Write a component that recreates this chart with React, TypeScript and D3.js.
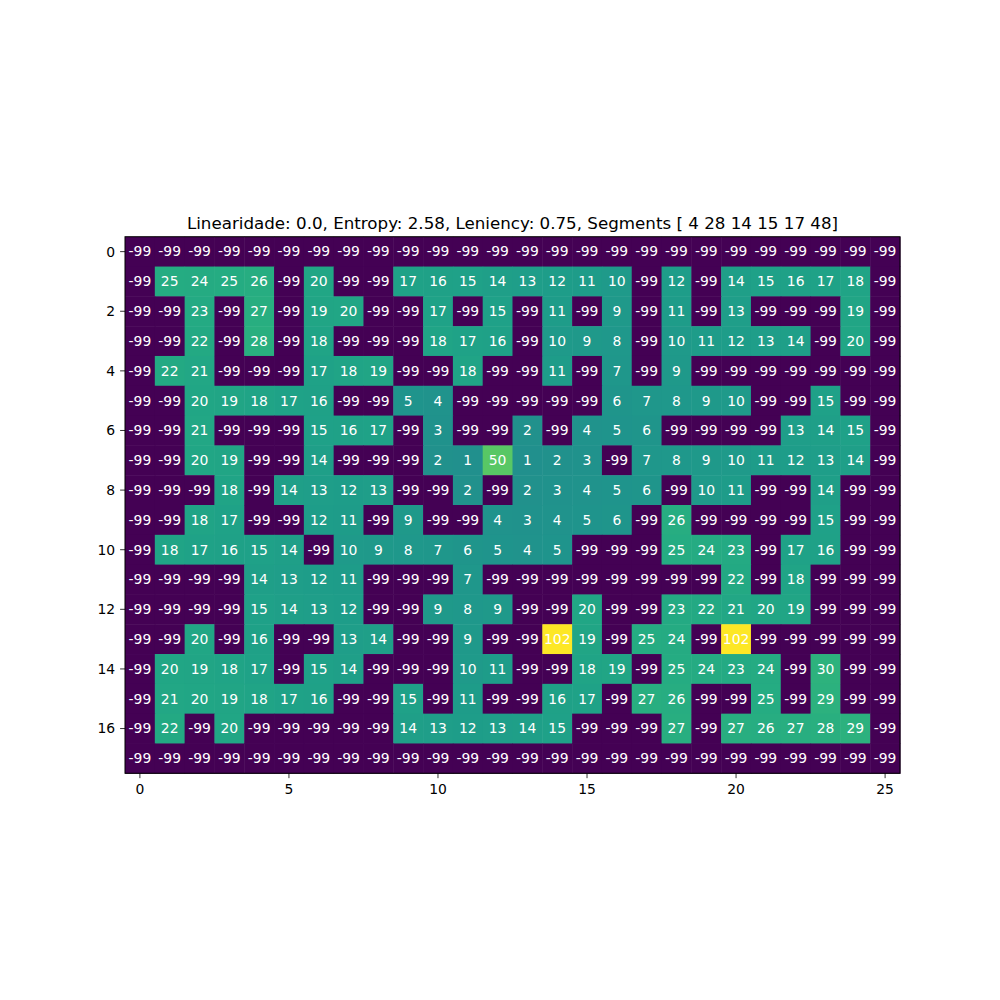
import * as d3 from "d3";

// maze level values, one array per row
const grid: number[][] = [
  [-99, -99, -99, -99, -99, -99, -99, -99, -99, -99, -99, -99, -99, -99, -99, -99, -99, -99, -99, -99, -99, -99, -99, -99, -99, -99],
  [-99, 25, 24, 25, 26, -99, 20, -99, -99, 17, 16, 15, 14, 13, 12, 11, 10, -99, 12, -99, 14, 15, 16, 17, 18, -99],
  [-99, -99, 23, -99, 27, -99, 19, 20, -99, -99, 17, -99, 15, -99, 11, -99, 9, -99, 11, -99, 13, -99, -99, -99, 19, -99],
  [-99, -99, 22, -99, 28, -99, 18, -99, -99, -99, 18, 17, 16, -99, 10, 9, 8, -99, 10, 11, 12, 13, 14, -99, 20, -99],
  [-99, 22, 21, -99, -99, -99, 17, 18, 19, -99, -99, 18, -99, -99, 11, -99, 7, -99, 9, -99, -99, -99, -99, -99, -99, -99],
  [-99, -99, 20, 19, 18, 17, 16, -99, -99, 5, 4, -99, -99, -99, -99, -99, 6, 7, 8, 9, 10, -99, -99, 15, -99, -99],
  [-99, -99, 21, -99, -99, -99, 15, 16, 17, -99, 3, -99, -99, 2, -99, 4, 5, 6, -99, -99, -99, -99, 13, 14, 15, -99],
  [-99, -99, 20, 19, -99, -99, 14, -99, -99, -99, 2, 1, 50, 1, 2, 3, -99, 7, 8, 9, 10, 11, 12, 13, 14, -99],
  [-99, -99, -99, 18, -99, 14, 13, 12, 13, -99, -99, 2, -99, 2, 3, 4, 5, 6, -99, 10, 11, -99, -99, 14, -99, -99],
  [-99, -99, 18, 17, -99, -99, 12, 11, -99, 9, -99, -99, 4, 3, 4, 5, 6, -99, 26, -99, -99, -99, -99, 15, -99, -99],
  [-99, 18, 17, 16, 15, 14, -99, 10, 9, 8, 7, 6, 5, 4, 5, -99, -99, -99, 25, 24, 23, -99, 17, 16, -99, -99],
  [-99, -99, -99, -99, 14, 13, 12, 11, -99, -99, -99, 7, -99, -99, -99, -99, -99, -99, -99, -99, 22, -99, 18, -99, -99, -99],
  [-99, -99, -99, -99, 15, 14, 13, 12, -99, -99, 9, 8, 9, -99, -99, 20, -99, -99, 23, 22, 21, 20, 19, -99, -99, -99],
  [-99, -99, 20, -99, 16, -99, -99, 13, 14, -99, -99, 9, -99, -99, 102, 19, -99, 25, 24, -99, 102, -99, -99, -99, -99, -99],
  [-99, 20, 19, 18, 17, -99, 15, 14, -99, -99, -99, 10, 11, -99, -99, 18, 19, -99, 25, 24, 23, 24, -99, 30, -99, -99],
  [-99, 21, 20, 19, 18, 17, 16, -99, -99, 15, -99, 11, -99, -99, 16, 17, -99, 27, 26, -99, -99, 25, -99, 29, -99, -99],
  [-99, 22, -99, 20, -99, -99, -99, -99, -99, 14, 13, 12, 13, 14, 15, -99, -99, -99, 27, -99, 27, 26, 27, 28, 29, -99],
  [-99, -99, -99, -99, -99, -99, -99, -99, -99, -99, -99, -99, -99, -99, -99, -99, -99, -99, -99, -99, -99, -99, -99, -99, -99, -99],
];

const xTicks = [0, 5, 10, 15, 20, 25];
const yTicks = [0, 2, 4, 6, 8, 10, 12, 14, 16];
const title = "Linearidade: 0.0, Entropy: 2.58, Leniency: 0.75, Segments [ 4 28 14 15 17 48]";

const W = 1000;
const H = 1000;
const nRows = grid.length;
const nCols = grid[0].length;

const left = 125;
const right = 900;
const plotW = right - left;
const plotH = (plotW * nRows) / nCols;
const cy = 505;
const top = cy - plotH / 2;
const bottom = cy + plotH / 2;

export default function App() {
  const all = grid.flat();
  const color = d3
    .scaleSequential(d3.interpolateViridis)
    .domain([d3.min(all) as number, d3.max(all) as number]);

  // cell centers on integer positions, like imshow
  const x = d3.scaleLinear().domain([-0.5, nCols - 0.5]).range([left, right]);
  const y = d3.scaleLinear().domain([-0.5, nRows - 0.5]).range([top, bottom]);
  const cw = x(1) - x(0);
  const ch = y(1) - y(0);

  const font = "'DejaVu Sans', sans-serif";

  return (
    <svg
      width={W}
      height={H}
      style={{ position: "absolute", left: 0, top: 0, background: "#fff" }}
      fontFamily={font}
    >
      <g>
        {grid.map((row, r) =>
          row.map((v, c) => (
            <rect
              key={`c${r}-${c}`}
              x={x(c - 0.5)}
              y={y(r - 0.5)}
              width={cw + 0.5}
              height={ch + 0.5}
              fill={color(v)}
            />
          ))
        )}
      </g>
      <g>
        {grid.map((row, r) =>
          row.map((v, c) => (
            <text
              key={`t${r}-${c}`}
              x={x(c)}
              y={y(r)}
              dy="0.35em"
              textAnchor="middle"
              fontSize={13.9}
              fill="#fff"
            >
              {v}
            </text>
          ))
        )}
      </g>
      <rect x={left} y={top} width={plotW} height={plotH} fill="none" stroke="#000" strokeWidth={1} />

      {xTicks.map((t) => (
        <g key={`xt${t}`} transform={`translate(${x(t)},${bottom})`}>
          <line y1={0} y2={4.9} stroke="#000" strokeWidth={0.8} />
          <text y={9.8} dy="0.8em" textAnchor="middle" fontSize={13.9} fill="#000">
            {t}
          </text>
        </g>
      ))}
      {yTicks.map((t) => (
        <g key={`yt${t}`} transform={`translate(${left},${y(t)})`}>
          <line x1={0} x2={-4.9} stroke="#000" strokeWidth={0.8} />
          <text x={-9.8} dy="0.35em" textAnchor="end" fontSize={13.9} fill="#000">
            {t}
          </text>
        </g>
      ))}

      <text x={(left + right) / 2} y={top - 8} textAnchor="middle" fontSize={16.7} fill="#000">
        {title}
      </text>
    </svg>
  );
}
